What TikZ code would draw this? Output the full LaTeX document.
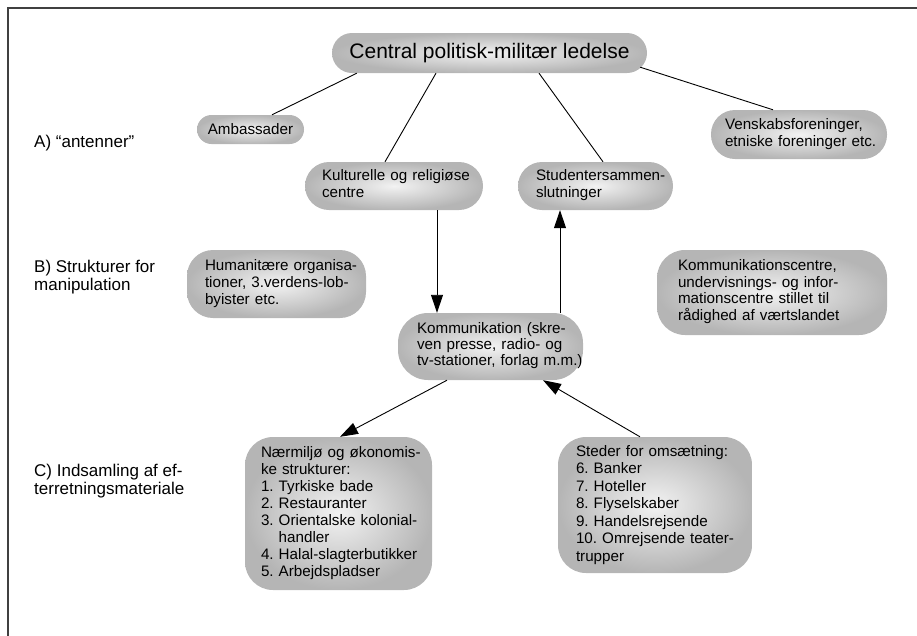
\documentclass[tikz,border=0pt]{standalone}
\usepackage{fontspec}
\setmainfont{Liberation Sans}
\usetikzlibrary{arrows.meta,calc}
\frenchspacing
\newcommand{\boxlines}[1]{\noindent\begin{tabular}{@{}l@{}}#1\end{tabular}}
\begin{document}
\begin{tikzpicture}[x=1pt,y=-1pt,
  box/.style={shade, inner color=black!5, outer color=black!29, inner sep=0pt, align=left,
              font=\fontsize{15.2}{17}\selectfont},
  lab/.style={anchor=west, align=left, inner sep=0pt, font=\fontsize{17}{18}\selectfont},
  conn/.style={line width=0.9pt, black},
  arr/.style={conn, -{Triangle[length=18pt,width=12pt]}},
  framec/.style={line width=2pt, black!75}]
\useasboundingbox (0,0) rectangle (917,635);
\draw[framec] (8,640) -- (8,8) -- (920,8);

\node[box, rounded corners=20, minimum width=315, minimum height=40, align=center,
      font=\fontsize{21}{24}\selectfont] (title) at (489.5,53) {Central politisk-militær ledelse};
\node[box, rounded corners=14.5, minimum width=107, minimum height=29] (amb) at (250.5,129.5) {Ambassader};
\node[box, rounded corners=24, minimum width=176, minimum height=49, text width=148] (vensk) at (799,134.5)
  {\boxlines{Venskabsforeninger,\\etniske foreninger etc.}};
\node[box, rounded corners=24, minimum width=178, minimum height=48, text width=144] (kult) at (394,186)
  {\boxlines{Kulturelle og religiøse\\centre}};
\node[box, rounded corners=24, minimum width=155, minimum height=48, text width=119] (stud) at (595.5,186)
  {\boxlines{Studentersammen-\\slutninger}};
\node[box, rounded corners=26, minimum width=179, minimum height=68, text width=143] (hum) at (276.5,284)
  {\boxlines{Humanitære organisa-\\tioner, 3.verdens-lob-\\byister etc.}};
\node[box, rounded corners=28, minimum width=230, minimum height=85, text width=188,
      font=\fontsize{15.2}{16.5}\selectfont] (kcent) at (772,292.5)
  {\boxlines{Kommunikationscentre,\\undervisnings- og infor-\\mationscentre stillet til\\rådighed af værtslandet}};
\node[box, rounded corners=30, minimum width=185, minimum height=67, text width=147,
      font=\fontsize{15.2}{16}\selectfont] (kom) at (490.5,346.5)
  {\boxlines{Kommunikation (skre-\\ven presse, radio- og\\tv-stationer, forlag m.m.)}};
\node[box, rounded corners=28, minimum width=187, minimum height=153, text width=155] (naer) at (338.5,513.5)
  {\boxlines{Nærmiljø og økonomis-\\ke strukturer:\\1. Tyrkiske bade\\2. Restauranter\\3. Orientalske kolonial-\\\phantom{3. }handler\\4. Halal-slagterbutikker\\5. Arbejdspladser}};
\node[box, rounded corners=28, minimum width=194, minimum height=136, text width=158,
      font=\fontsize{15.2}{17.5}\selectfont] (sted) at (655,505)
  {\boxlines{Steder for omsætning:\\6. Banker\\7. Hoteller\\8. Flyselskaber\\9. Handelsrejsende\\10. Omrejsende teater-\\trupper}};

\node[lab] (la) at (34,143) {A) “antenner”};
\node[lab] (lb) at (34,277) {B) Strukturer for\\manipulation};
\node[lab] (lc) at (34,481) {C) Indsamling af ef-\\terretningsmateriale};

\draw[conn] ($(title.south west)+(25,0)$) -- ($(amb.north)+(21.5,0)$);
\draw[conn] ($(title.south)+(-53.5,0)$) -- ($(kult.north)+(-9,0)$);
\draw[conn] ($(title.south)+(49.5,0)$) -- ($(stud.north)+(7.5,0)$);
\draw[conn] ($(title.south east)+(-7,-6)$) -- ($(vensk.north)+(-26,0)$);
\draw[arr] ($(kult.south)+(43,0)$) -- ($(kom.north)+(-53.5,0)$);
\draw[arr] ($(kom.north)+(69.5,0)$) -- ($(stud.south)+(-35.5,0)$);
\draw[arr] ($(kom.south)+(-43.5,0)$) -- ($(naer.north)+(1.5,0)$);
\draw[arr] ($(sted.north)+(-15,0)$) -- ($(kom.south)+(52.5,0)$);
\end{tikzpicture}
\end{document}
